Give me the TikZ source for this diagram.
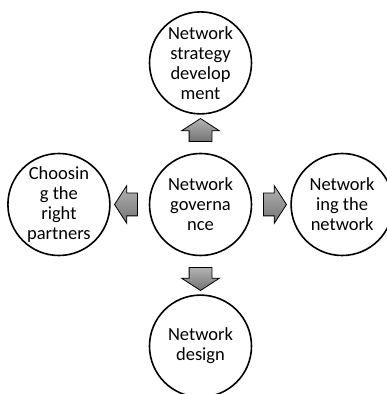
\documentclass[tikz,border=0pt]{standalone}
\usepackage{fontspec}
\setmainfont{Carlito}
\usetikzlibrary{positioning,calc,shapes.arrows}

\begin{document}
\begin{tikzpicture}[x=1pt,y=1pt]
	\tikzstyle{Circ} = [circle,draw,line width=1.6pt,minimum size=102pt,inner sep=-18pt,align=center,font=\fontsize{18.5}{20}\selectfont]
	\tikzstyle{Block} = [single arrow,draw,line width=0.8pt,inner xsep=0pt,inner ysep=11pt,minimum height=23pt,single arrow head extend=7.5pt,single arrow tip angle=114,top color=black!30,bottom color=black!55]
	\useasboundingbox (0,0) rectangle (387,394);
	% the four steps round the governance circle
	\node[Circ] (gov) at (200.5,189.5) {Network\\governa\\nce};
	\node[Circ,above=38pt of gov] (strat) {Network\\strategy\\develop\\ment};
	\node[Circ,below=38pt of gov] (design) {Network\\design};
	\node[Circ,left=38pt of gov] (partn) {Choosin\\g the\\right\\partners};
	\node[Circ,right=38pt of gov] (netw) {Network\\ing the\\network};
	% block arrows
	\node[Block,rotate=90] (toStrat) at ($(gov)!0.5!(strat)$) {};
	\node[Block,rotate=-90] (toDesign) at ($(gov)!0.5!(design)$) {};
	\node[Block,rotate=180] (toPartn) at ($(gov)!0.5!(partn)$) {};
	\node[Block] (toNetw) at ($(gov)!0.5!(netw)$) {};
\end{tikzpicture}
\end{document}
